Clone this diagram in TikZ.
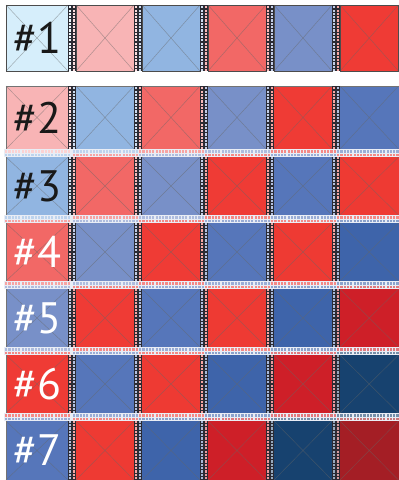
\documentclass[tikz,border=0pt]{standalone}
\usepackage{fontspec}
\setsansfont{PT Sans}
\usepackage{tikz}
\definecolor{c0}{HTML}{D6EEFB}
\definecolor{c1}{HTML}{F8B4B5}
\definecolor{c2}{HTML}{91B5E1}
\definecolor{c3}{HTML}{F26866}
\definecolor{c4}{HTML}{7890C8}
\definecolor{c5}{HTML}{EF3B35}
\definecolor{c6}{HTML}{5676BA}
\definecolor{c7}{HTML}{EE3A33}
\definecolor{c8}{HTML}{3E64AA}
\definecolor{c9}{HTML}{CE1F28}
\definecolor{c10}{HTML}{17426F}
\definecolor{c11}{HTML}{A41E25}
\definecolor{rail}{HTML}{2B2B33}
\definecolor{band}{HTML}{E9EDF5}

\begin{document}
\begin{tikzpicture}[x=1pt, y=-1pt,
  cell/.style={draw=black!70, line width=0.6pt},
  edge/.style={draw=black!55, line width=0.6pt},
  cross/.style={draw=black!60, line width=0.5pt, opacity=0.5},
  railbar/.style={fill=rail},
  bandbar/.style={fill=band},
  rowlabel/.style={font=\sffamily\fontsize{44}{44}\selectfont, inner sep=0pt}
]
\useasboundingbox (0,0) rectangle (399,480);

\foreach \r/\t/\b in {1/5/71, 2/86/149, 3/157/215, 4/223/281, 5/289/347, 6/355/413, 7/421/480}
  \foreach \c/\l/\rr in {1/6/68, 2/76/134, 3/142/200, 4/208/266, 5/274/332, 6/340/398.5} {
    \pgfmathtruncatemacro\k{\r+\c-2}
    \fill[c\k] (\l,\t) rectangle (\rr,\b);
    \draw[cross] (\l,\t) -- (\rr,\b) (\l,\b) -- (\rr,\t);
  }
\foreach \l/\rr in {6/68, 76/134, 142/200, 208/266, 274/332, 340/398.5}
  \draw[cell] (\l,5) rectangle (\rr,71);
\draw[edge] (6,480) -- (6,86) -- (398.5,86);

\foreach \r/\t/\b in {1/5/71, 2/86/149, 3/149/215, 4/215/281, 5/281/347, 6/347/413, 7/413/480}
  \foreach \c/\s in {1/68, 2/134, 3/200, 4/266, 5/332} {
    \pgfmathtruncatemacro\k{\r+\c-2}
    \pgfmathtruncatemacro\m{\r+\c-1}
    \pgfmathtruncatemacro\n{(\b-\t-3)/3.3}
    \fill[railbar] (\s,\t) rectangle (\s+8,\b);
    \foreach \j in {0,...,\n} {
      \fill[c\k!45!white] ({\s+1.2},{\t+1.2+3.3*\j}) rectangle ++(2.2,2.2);
      \fill[c\m!45!white] ({\s+4.6},{\t+1.2+3.3*\j}) rectangle ++(2.2,2.2);
    }
  }

\foreach \r/\y in {2/149, 3/215, 4/281, 5/347, 6/413}
  \foreach \c/\l/\rr in {1/4/72, 2/72/138, 3/138/204, 4/204/270, 5/270/336, 6/336/399} {
    \pgfmathtruncatemacro\k{\r+\c-2}
    \pgfmathtruncatemacro\m{\r+\c-1}
    \pgfmathtruncatemacro\n{(\rr-\l-3)/3.3}
    \fill[bandbar] (\l,\y) rectangle (\rr,\y+8);
    \foreach \j in {0,...,\n} {
      \fill[c\k!60!white] ({\l+1+3.3*\j},{\y+1.3}) rectangle ++(2.2,2.2);
      \fill[c\m!60!white] ({\l+1+3.3*\j},{\y+4.5}) rectangle ++(2.2,2.2);
    }
  }

\node[rowlabel, text=black!90] (n1) at (37,38) {\#1};
\node[rowlabel, text=black!90] (n2) at (37,117.5) {\#2};
\node[rowlabel, text=black!90] (n3) at (37,186) {\#3};
\node[rowlabel, text=white] (n4) at (37,252) {\#4};
\node[rowlabel, text=white] (n5) at (37,318) {\#5};
\node[rowlabel, text=white] (n6) at (37,384) {\#6};
\node[rowlabel, text=white] (n7) at (37,450.5) {\#7};
\end{tikzpicture}
\end{document}
